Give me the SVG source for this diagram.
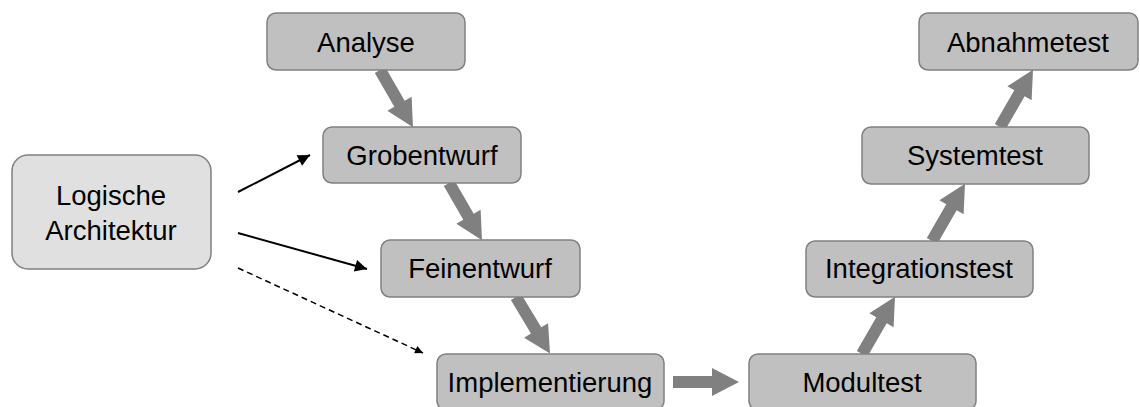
<svg xmlns="http://www.w3.org/2000/svg" xmlns:xlink="http://www.w3.org/1999/xlink" width="1140" height="407" viewBox="0 0 1140 407">
  <style>
    .box { fill: #c0c0c0; stroke: #808080; stroke-width: 1.5; }
    .src { fill: #e0e0e0; stroke: #808080; stroke-width: 1.5; }
    .lbl { font-family: "Liberation Sans", Arial, sans-serif; font-size: 27.5px; fill: #000; text-anchor: middle; }
    .flow { fill: #808080; }
    .ref { stroke: #000; stroke-width: 2; fill: none; }
    .dash { stroke: #000; stroke-width: 1.5; fill: none; stroke-dasharray: 6 4; }
  </style>
  <defs>
    <!-- thick grey process arrow, 66 units long, pointing along +x -->
    <path id="blk" d="M0,-6 H39 V-14 L66,0 L39,14 V6 H0 Z"/>
    <marker id="tip" viewBox="0 0 10 10" refX="10" refY="5" markerWidth="14" markerHeight="12" markerUnits="userSpaceOnUse" orient="auto">
      <path d="M0,0 L10,5 L0,10 Z" fill="#000"/>
    </marker>
    <marker id="tipS" viewBox="0 0 10 10" refX="10" refY="5" markerWidth="10" markerHeight="8" markerUnits="userSpaceOnUse" orient="auto">
      <path d="M0,0 L10,5 L0,10 Z" fill="#000"/>
    </marker>
  </defs>

  <g id="connectors">
    <use xlink:href="#blk" class="flow" transform="translate(380,70) rotate(60)"/>
    <use xlink:href="#blk" class="flow" transform="translate(449,183) rotate(60)"/>
    <use xlink:href="#blk" class="flow" transform="translate(516,297) rotate(59)"/>
    <use xlink:href="#blk" class="flow" transform="translate(673,382)"/>
    <use xlink:href="#blk" class="flow" transform="translate(862,354) rotate(-60)"/>
    <use xlink:href="#blk" class="flow" transform="translate(932,241) rotate(-60)"/>
    <use xlink:href="#blk" class="flow" transform="translate(1000,127) rotate(-60)"/>
    <line class="ref" x1="238" y1="192" x2="310" y2="155" marker-end="url(#tip)"/>
    <line class="ref" x1="238" y1="233" x2="367" y2="269" marker-end="url(#tip)"/>
    <line class="dash" x1="238" y1="268" x2="423" y2="353" marker-end="url(#tipS)"/>
  </g>

  <g id="logische-architektur">
    <rect class="src" x="12" y="155" width="199" height="114" rx="16"/>
    <text class="lbl" x="111" y="205">Logische</text>
    <text class="lbl" x="111" y="240">Architektur</text>
  </g>
  <g id="analyse">
    <rect class="box" x="267" y="13" width="198" height="57" rx="9"/>
    <text class="lbl" x="366" y="52">Analyse</text>
  </g>
  <g id="grobentwurf">
    <rect class="box" x="323" y="127" width="198" height="56" rx="9"/>
    <text class="lbl" x="422" y="165">Grobentwurf</text>
  </g>
  <g id="feinentwurf">
    <rect class="box" x="381" y="240" width="199" height="57" rx="9"/>
    <text class="lbl" x="480" y="278">Feinentwurf</text>
  </g>
  <g id="implementierung">
    <rect class="box" x="437" y="354" width="227" height="56" rx="9"/>
    <text class="lbl" x="550" y="392">Implementierung</text>
  </g>
  <g id="modultest">
    <rect class="box" x="749" y="354" width="227" height="56" rx="9"/>
    <text class="lbl" x="862" y="392">Modultest</text>
  </g>
  <g id="integrationstest">
    <rect class="box" x="806" y="241" width="227" height="56" rx="9"/>
    <text class="lbl" x="919" y="278">Integrationstest</text>
  </g>
  <g id="systemtest">
    <rect class="box" x="862" y="127" width="227" height="57" rx="9"/>
    <text class="lbl" x="975" y="165">Systemtest</text>
  </g>
  <g id="abnahmetest">
    <rect class="box" x="919" y="13" width="219" height="57" rx="9"/>
    <text class="lbl" x="1028" y="52">Abnahmetest</text>
  </g>
</svg>
